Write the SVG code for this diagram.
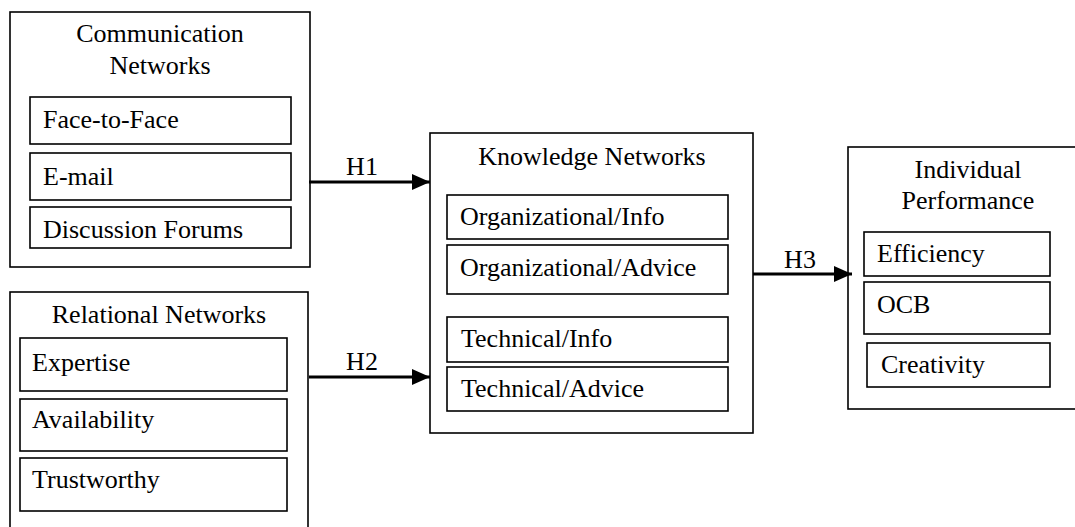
<svg xmlns="http://www.w3.org/2000/svg" width="1075" height="527" viewBox="0 0 1075 527">
<defs>
<style>
.box{fill:#fff;stroke:#000;stroke-width:1.6}
.in{fill:#fff;stroke:#000;stroke-width:1.6}
text{font-family:"Liberation Serif","Times New Roman",serif;font-size:26px;fill:#000}
.c{text-anchor:middle}
.arr{stroke:#000;stroke-width:3;fill:none}
</style>
<marker id="ah" markerUnits="userSpaceOnUse" markerWidth="18" markerHeight="18" viewBox="0 0 18 18" refX="18" refY="9" orient="auto">
<path d="M0,1 L18,9 L0,17 Z" fill="#000"/>
</marker>
</defs>
<rect width="1075" height="527" fill="#fff"/>
<g id="communication">
<rect class="box" x="10" y="12" width="300" height="255"/>
<text class="c" x="160" y="42">Communication</text>
<text class="c" x="160" y="74">Networks</text>
<rect class="in" x="30" y="97" width="261" height="47"/>
<text x="43" y="128">Face-to-Face</text>
<rect class="in" x="30" y="153" width="261" height="47"/>
<text x="43" y="185">E-mail</text>
<rect class="in" x="30" y="207" width="261" height="41"/>
<text x="43" y="238">Discussion Forums</text>
</g>
<g id="relational">
<rect class="box" x="10" y="292" width="298" height="245"/>
<text class="c" x="159" y="323">Relational Networks</text>
<rect class="in" x="20" y="338" width="267" height="53"/>
<text x="32" y="371">Expertise</text>
<rect class="in" x="20" y="399" width="267" height="52"/>
<text x="32" y="428">Availability</text>
<rect class="in" x="20" y="458" width="267" height="53"/>
<text x="32" y="488">Trustworthy</text>
</g>
<g id="knowledge">
<rect class="box" x="430" y="133" width="323" height="300"/>
<text class="c" x="592" y="165">Knowledge Networks</text>
<rect class="in" x="447" y="195" width="281" height="44"/>
<text x="460" y="225">Organizational/Info</text>
<rect class="in" x="447" y="245" width="281" height="49"/>
<text x="460" y="276">Organizational/Advice</text>
<rect class="in" x="447" y="317" width="281" height="45"/>
<text x="461" y="347">Technical/Info</text>
<rect class="in" x="447" y="367" width="281" height="44"/>
<text x="461" y="397">Technical/Advice</text>
</g>
<g id="performance">
<rect class="box" x="848" y="147" width="240" height="262"/>
<text class="c" x="968" y="178">Individual</text>
<text class="c" x="968" y="209">Performance</text>
<rect class="in" x="864" y="232" width="186" height="44"/>
<text x="877" y="262">Efficiency</text>
<rect class="in" x="864" y="282" width="186" height="52"/>
<text x="877" y="313">OCB</text>
<rect class="in" x="867" y="343" width="183" height="44"/>
<text x="881" y="373">Creativity</text>
</g>
<g id="connectors">
<line class="arr" x1="309" y1="182" x2="430" y2="182" marker-end="url(#ah)"/>
<text class="c" x="362" y="175">H1</text>
<line class="arr" x1="309" y1="377" x2="430" y2="377" marker-end="url(#ah)"/>
<text class="c" x="362" y="370">H2</text>
<line class="arr" x1="753" y1="274" x2="852" y2="274" marker-end="url(#ah)"/>
<text class="c" x="800" y="268">H3</text>
</g>
</svg>
